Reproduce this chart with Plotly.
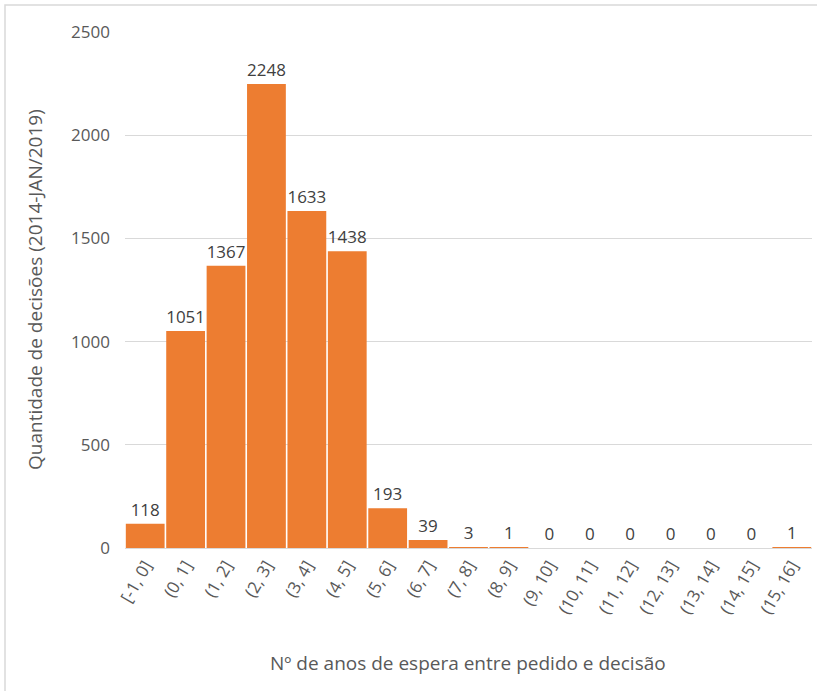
import plotly.graph_objects as go

# Waiting-time bins (years between request and decision)
bins = ["[-1, 0]", "(0, 1]", "(1, 2]", "(2, 3]", "(3, 4]", "(4, 5]", "(5, 6]",
        "(6, 7]", "(7, 8]", "(8, 9]", "(9, 10]", "(10, 11]", "(11, 12]",
        "(12, 13]", "(13, 14]", "(14, 15]", "(15, 16]"]
decisions = [118, 1051, 1367, 2248, 1633, 1438, 193, 39, 3, 1, 0, 0, 0, 0, 0, 0, 1]

y_ticks = [0, 500, 1000, 1500, 2000, 2500]

font_family = "Open Sans, Noto Sans, sans-serif"
text_grey = "#595959"

# plot area in pixels
L, R, T, B = 125, 5, 32, 143
W, H = 817, 691
pw, ph = W - L - R, H - T - B

fig = go.Figure(
    go.Bar(
        x=bins,
        y=decisions,
        marker=dict(color="#ED7D31", line=dict(width=0)),
        text=[str(v) for v in decisions],
        textposition="outside",
        textfont=dict(family=font_family, size=17, color="#404040"),
        cliponaxis=False,
    )
)

fig.update_layout(
    width=W,
    height=H,
    margin=dict(l=L, r=R, t=T, b=B),
    paper_bgcolor="white",
    plot_bgcolor="white",
    bargap=0.04,
    showlegend=False,
    font=dict(family=font_family, color=text_grey, size=17),
    xaxis=dict(
        type="category",
        tickangle=-60,
        tickfont=dict(size=17, color=text_grey),
        showgrid=False,
        showline=True,
        linecolor="#d9d9d9",
        linewidth=1,
        ticks="",
    ),
    yaxis=dict(
        range=[0, 2500],
        tickvals=y_ticks,
        tickfont=dict(size=17, color=text_grey),
        showgrid=True,
        gridcolor="#d9d9d9",
        gridwidth=1,
        zeroline=False,
        showline=False,
        ticks="",
        ticklabelstandoff=14,
    ),
    annotations=[
        dict(text="Nº de anos de espera entre pedido e decisão",
             xref="paper", yref="paper", x=(468 - L) / pw, y=-(663 - T - ph) / ph,
             xanchor="center", yanchor="middle", showarrow=False,
             font=dict(size=19, color=text_grey)),
        dict(text="Quantidade de decisões (2014-JAN/2019)",
             xref="paper", yref="paper", x=-(L - 35) / pw, y=(H - B - 290) / ph,
             xanchor="center", yanchor="middle", showarrow=False, textangle=-90,
             font=dict(size=19, color=text_grey)),
    ],
    shapes=[
        # outer chart frame
        dict(type="rect", xref="paper", yref="paper",
             x0=-(L - 5) / pw, x1=1.02, y0=-0.30, y1=1 + (T - 5) / ph,
             line=dict(color="#d9d9d9", width=1.5), layer="below"),
    ],
)

fig.write_html("out.html")
